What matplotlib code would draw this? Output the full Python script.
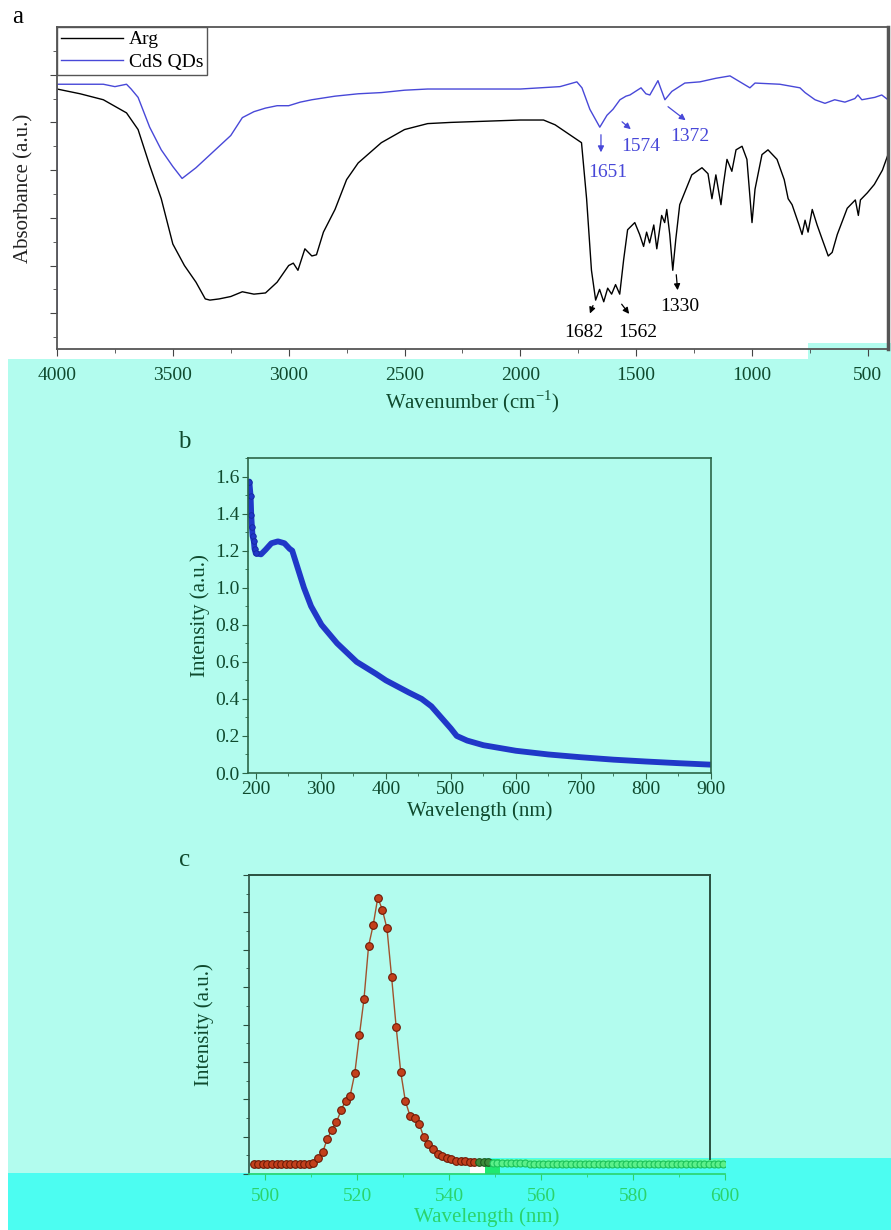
import numpy as np
import matplotlib
matplotlib.use("Agg")
import matplotlib.pyplot as plt
from matplotlib.patches import Rectangle
from matplotlib.ticker import MultipleLocator, FixedLocator

plt.rcParams['font.family'] = ['Liberation Serif', 'DejaVu Serif']
plt.rcParams['mathtext.fontset'] = 'custom'
plt.rcParams['mathtext.rm'] = 'Liberation Serif'

W, H = 891, 1230

# ---- panel a: FTIR (wavenumber, absorbance a.u.) ----
arg_wn = [4000, 3900, 3800, 3700, 3650, 3600, 3550, 3500, 3450, 3400, 3360, 3340,
          3300, 3250, 3200, 3150, 3100, 3050, 3000, 2980, 2960, 2930, 2900, 2880,
          2850, 2800, 2750, 2700, 2600, 2500, 2400, 2300, 2000, 1900, 1850, 1736,
          1714, 1693, 1675, 1658, 1640, 1623, 1606, 1589, 1571, 1554, 1537, 1506,
          1485, 1468, 1455, 1442, 1424, 1411, 1390, 1377, 1368, 1355, 1342, 1329,
          1312, 1260, 1216, 1190, 1173, 1156, 1134, 1125, 1108, 1087, 1069, 1043,
          1022, 1000, 987, 957, 931, 892, 861, 844, 827, 797, 784, 771, 758, 740,
          719, 697, 671, 654, 632, 589, 554, 541, 532, 502, 472, 437, 413]
arg_ab = [10.9, 10.7, 10.45, 9.9, 9.2, 7.7, 6.3, 4.4, 3.5, 2.8, 2.1, 2.05,
          2.1, 2.2, 2.4, 2.3, 2.35, 2.8, 3.5, 3.6, 3.3, 4.2, 3.9, 3.95,
          4.9, 5.85, 7.1, 7.8, 8.65, 9.2, 9.45, 9.5, 9.6, 9.6, 9.4, 8.65,
          6.3, 3.3, 2.05, 2.5, 1.98, 2.55, 2.3, 2.7, 2.3, 3.75, 5.0, 5.3,
          4.8, 4.3, 4.9, 4.45, 5.2, 4.2, 5.6, 5.3, 5.85, 4.8, 3.3, 4.6,
          6.05, 7.3, 7.6, 7.35, 6.3, 7.3, 6.05, 6.8, 7.95, 7.45, 8.35, 8.5,
          7.95, 5.3, 6.7, 8.15, 8.35, 7.95, 7.1, 6.3, 6.05, 5.2, 4.8, 5.4, 4.9, 5.85,
          5.2, 4.6, 3.9, 4.05, 4.8, 5.9, 6.25, 5.6, 6.25, 6.55, 6.9, 7.5, 8.15]

cds_wn = [4000, 4000, 3900, 3800, 3750, 3700, 3680, 3650, 3600, 3550, 3500, 3460,
          3400, 3350, 3300, 3250, 3200, 3150, 3100, 3050, 3000, 2950, 2900, 2800,
          2700, 2600, 2500, 2400, 2300, 2000, 1829, 1756, 1734, 1700, 1657, 1626,
          1600, 1570, 1544, 1527, 1479, 1458, 1441, 1406, 1393, 1376, 1346, 1290,
          1225, 1156, 1095, 1052, 1009, 987, 880, 793, 771, 728, 685, 643, 599,
          556, 543, 526, 470, 440, 413]
cds_ab = [1.5, 11.1, 11.1, 11.1, 11.0, 11.1, 10.9, 10.55, 9.3, 8.35, 7.65, 7.15,
          7.6, 8.05, 8.5, 8.95, 9.7, 9.95, 10.1, 10.2, 10.2, 10.35, 10.45, 10.6,
          10.7, 10.75, 10.85, 10.9, 10.9, 10.9, 11.0, 11.2, 10.95, 10.05, 9.3, 9.8,
          10.05, 10.45, 10.6, 10.65, 10.95, 10.7, 10.65, 11.25, 10.9, 10.45, 10.8, 11.15,
          11.2, 11.35, 11.45, 11.2, 10.95, 11.15, 11.1, 10.95, 10.75, 10.45, 10.3, 10.45, 10.35,
          10.5, 10.65, 10.45, 10.55, 10.65, 10.45]

# peak labels: (text, peak wn, peak y, arrow head wn, head y, text wn, text y)
blue_marks = [("1651", 1652, 9.1, 1652, 8.13, 1622, 7.42),
              ("1574", 1570, 9.6, 1514, 9.14, 1480, 8.51),
              ("1372", 1372, 10.23, 1277, 9.52, 1268, 8.89)]
black_marks = [("1682", 1682, 1.93, 1704, 1.38, 1726, 0.71),
               ("1562", 1570, 1.97, 1523, 1.38, 1492, 0.71),
               ("1330", 1328, 3.23, 1320, 2.35, 1311, 1.8)]

# ---- panel b: UV-vis ----
uv_wl = [190, 192, 193, 194, 195, 197, 198, 200, 208, 215, 224, 234, 244, 252, 256,
         265, 274, 285, 301, 325, 355, 385, 400, 435, 455, 470, 485, 500, 509, 525,
         550, 600, 650, 700, 750, 800, 850, 900]
uv_int = [1.573, 1.495, 1.39, 1.33, 1.28, 1.25, 1.21, 1.185, 1.18, 1.205, 1.24, 1.25,
          1.24, 1.21, 1.20, 1.10, 1.00, 0.90, 0.80, 0.70, 0.60, 0.535, 0.50, 0.435,
          0.40, 0.36, 0.30, 0.24, 0.20, 0.175, 0.15, 0.12, 0.10, 0.085, 0.072,
          0.062, 0.053, 0.045]

# ---- panel c: PL ----
pl_wl = np.arange(497.5, 600, 1.0)
pl_int = [0.27, 0.28, 0.28, 0.28, 0.27, 0.27, 0.28, 0.26, 0.26, 0.26, 0.26, 0.26, 0.27,
          0.30, 0.42, 0.58, 0.93, 1.19, 1.38, 1.70, 1.96, 2.10, 2.69, 3.71, 4.68,
          6.10, 6.66, 7.39, 7.07, 6.57, 5.28, 3.93, 2.72, 1.95, 1.56, 1.50, 1.35,
          0.98, 0.80, 0.67, 0.53, 0.48, 0.44, 0.39, 0.35, 0.34, 0.34, 0.33, 0.32,
          0.32, 0.31, 0.31, 0.30, 0.30, 0.30, 0.29, 0.29, 0.29, 0.29, 0.29, 0.28,
          0.28, 0.28, 0.28, 0.28, 0.28, 0.28, 0.28, 0.28, 0.28, 0.28, 0.28, 0.28,
          0.28, 0.28, 0.28, 0.28, 0.28, 0.28, 0.28, 0.28, 0.28, 0.28, 0.28, 0.28,
          0.28, 0.28, 0.28, 0.28, 0.28, 0.28, 0.28, 0.28, 0.28, 0.28, 0.28, 0.28,
          0.28, 0.28, 0.28, 0.28, 0.28, 0.28]

LIGHT_CYAN = '#b2fcee'
STRIP_CYAN = '#4cfdf1'
DARK_GREEN = '#0f4a2e'
SPINE_GREEN = '#2c6648'
BRIGHT_GREEN = '#2bd36c'
BLUE = '#4848d8'


def px_box(x0, y0, x1, y1):
    """pixel box (top-left origin) -> figure fraction rect"""
    return (x0 / W, 1 - y1 / H), (x1 - x0) / W, (y1 - y0) / H


def bg(fig, x0, y0, x1, y1, color):
    xy, w, h = px_box(x0, y0, x1, y1)
    fig.add_artist(Rectangle(xy, w, h, transform=fig.transFigure,
                             facecolor=color, edgecolor='none', zorder=-10))


def axes_px(fig, x0, y0, x1, y1):
    xy, w, h = px_box(x0, y0, x1, y1)
    ax = fig.add_axes([xy[0], xy[1], w, h])
    ax.set_facecolor('none')
    return ax


fig = plt.figure(figsize=(W / 100, H / 100), dpi=100)
fig.patch.set_facecolor('white')

# backgrounds of the (scanned) figure
bg(fig, 8, 359, W, H, LIGHT_CYAN)
bg(fig, 808, 343, W, 359, LIGHT_CYAN)
bg(fig, 8, 1173, 485, H, STRIP_CYAN)
bg(fig, 485, 1158, W, H, STRIP_CYAN)
bg(fig, 500, 1159, 725, 1167, '#66ffae')
bg(fig, 485, 1159, 500, 1174, '#1fe870')
bg(fig, 470, 1164, 485, 1174, 'white')

# ---------------- panel a ----------------
ax1 = axes_px(fig, 57, 27, 888, 349)
ax1.plot(arg_wn, arg_ab, color='black', lw=1.0, label='Arg')
ax1.plot(cds_wn, cds_ab, color=BLUE, lw=1.0, label='CdS QDs')
ax1.set_xlim(4000, 413)
ax1.set_ylim(0, 13.5)
ax1.xaxis.set_major_locator(FixedLocator([4000, 3500, 3000, 2500, 2000, 1500, 1000, 500]))
ax1.xaxis.set_minor_locator(FixedLocator([3750, 3250, 2750, 2250, 1750, 1250, 750]))
ax1.yaxis.set_major_locator(FixedLocator(np.arange(1.5, 13, 2)))
ax1.yaxis.set_minor_locator(FixedLocator(np.arange(0.5, 13.5, 2)))
ax1.set_yticklabels([])
ax1.tick_params(which='both', direction='out', colors='#444444', labelcolor=DARK_GREEN,
                labelsize=14, pad=8)
ax1.tick_params(which='major', length=5)
ax1.tick_params(which='minor', length=3)
for s in ax1.spines.values():
    s.set_color('#555555')
    s.set_linewidth(1.3)
ax1.spines['right'].set_linewidth(2.5)
ax1.set_xlabel('Wavenumber (cm$^{\\mathregular{-1}}$)', fontsize=15, color=DARK_GREEN, labelpad=3)
ax1.set_ylabel('Absorbance (a.u.)', fontsize=15, color='#222222')
ax1.yaxis.set_label_coords(-0.028, 0.5)
leg = ax1.legend(loc='upper left', borderaxespad=0, fontsize=14, handlelength=3.2,
                 handletextpad=0.3, labelspacing=0.25, borderpad=0.2, fancybox=False,
                 framealpha=1, edgecolor='#555555')
leg.get_frame().set_linewidth(1.0)
for txt, xw, yw, hx, hy, tx, ty in blue_marks:
    ax1.annotate('', xy=(hx, hy), xytext=(xw, yw),
                 arrowprops=dict(arrowstyle='-|>', color=BLUE, lw=0.9, mutation_scale=9))
    ax1.text(tx, ty, txt, color=BLUE, fontsize=14, ha='center', va='center')
for txt, xw, yw, hx, hy, tx, ty in black_marks:
    ax1.annotate('', xy=(hx, hy), xytext=(xw, yw),
                 arrowprops=dict(arrowstyle='-|>', color='black', lw=0.9, mutation_scale=9))
    ax1.text(tx, ty, txt, color='black', fontsize=14, ha='center', va='center')
fig.text(12 / W, 1 - 17 / H, 'a', fontsize=18, color='black', va='center')

# ---------------- panel b ----------------
ax2 = axes_px(fig, 248, 458, 711, 773)
ax2.plot(uv_wl, uv_int, color='#2038c8', lw=4.2, solid_capstyle='round',
         solid_joinstyle='round')
uv_wl_arr = np.asarray(uv_wl)
uv_int_arr = np.asarray(uv_int)
sharp = uv_wl_arr <= 200
ax2.plot(uv_wl_arr[sharp], uv_int_arr[sharp], 'o', ms=4, color='#2038c8',
         mec='#1428a0', mew=0.6)
ax2.set_xlim(188, 900)
ax2.set_ylim(0, 1.7)
ax2.xaxis.set_major_locator(MultipleLocator(100))
ax2.xaxis.set_minor_locator(MultipleLocator(50))
ax2.yaxis.set_major_locator(MultipleLocator(0.2))
ax2.yaxis.set_minor_locator(MultipleLocator(0.1))
ax2.yaxis.set_major_formatter(matplotlib.ticker.FormatStrFormatter('%.1f'))
ax2.tick_params(which='both', direction='out', colors=SPINE_GREEN, labelcolor=DARK_GREEN,
                labelsize=14, pad=2)
ax2.tick_params(which='major', length=4)
ax2.tick_params(which='minor', length=2.5)
for s in ax2.spines.values():
    s.set_color(SPINE_GREEN)
    s.set_linewidth(1.2)
ax2.set_xlabel('Wavelength (nm)', fontsize=15, color=DARK_GREEN, labelpad=2)
ax2.set_ylabel('Intensity (a.u.)', fontsize=15, color=DARK_GREEN, labelpad=4)
fig.text(178 / W, 1 - 442 / H, 'b', fontsize=18, color=DARK_GREEN, va='center')

# ---------------- panel c ----------------
ax3 = axes_px(fig, 249, 875, 725, 1174)
ax3.plot(pl_wl, pl_int, color='#a0522d', lw=1.0, zorder=2)
pl_wl_arr = np.asarray(pl_wl)
pl_int_arr = np.asarray(pl_int)
red = pl_wl_arr < 545.8
mid = (pl_wl_arr >= 545.8) & (pl_wl_arr < 549)
grn = pl_wl_arr >= 549
ax3.plot(pl_wl_arr[red], pl_int_arr[red], 'o', ms=5.5, mfc='#c2401c', mec='#6e1a06',
         mew=0.8, zorder=3)
ax3.plot(pl_wl_arr[mid], pl_int_arr[mid], 'o', ms=5.5, mfc='#3f8a3a', mec='#1e5a1e',
         mew=0.8, zorder=3)
ax3.plot(pl_wl_arr[grn], pl_int_arr[grn], 'o', ms=5.0, mfc='#5cf08a', mec='#1cc25a',
         mew=0.8, zorder=3)
ax3.set_xlim(496.5, 600)
ax3.set_ylim(0, 8)
ax3.xaxis.set_major_locator(MultipleLocator(20))
ax3.xaxis.set_minor_locator(MultipleLocator(10))
ax3.yaxis.set_major_locator(MultipleLocator(1))
ax3.yaxis.set_minor_locator(MultipleLocator(0.5))
ax3.set_yticklabels([])
ax3.tick_params(axis='x', which='both', direction='out', colors=BRIGHT_GREEN,
                labelcolor=BRIGHT_GREEN, labelsize=14, pad=6)
ax3.tick_params(axis='y', which='both', direction='out', colors='#2a5040')
ax3.tick_params(which='major', length=4)
ax3.tick_params(which='minor', length=2.5)
ax3.spines['right'].set_visible(False)
ax3.spines['top'].set_visible(False)
ax3.spines['left'].set_color('#2a5040')
ax3.spines['left'].set_linewidth(1.2)
ax3.spines['bottom'].set_color(BRIGHT_GREEN)
ax3.spines['bottom'].set_linewidth(1.2)
# original frame (top and right edges stop short of the axis end)
ax3.plot([496.5, 596.7], [8, 8], color='#2a5040', lw=1.4, clip_on=False)
ax3.plot([596.7, 596.7], [0.4, 8], color='#2a5040', lw=1.4, clip_on=False)
ax3.set_xlabel('Wavelength (nm)', fontsize=15, color=BRIGHT_GREEN, labelpad=2)
ax3.set_ylabel('Intensity (a.u.)', fontsize=15, color=DARK_GREEN, labelpad=18)
fig.text(179 / W, 1 - 860 / H, 'c', fontsize=18, color=DARK_GREEN, va='center')

fig.savefig('out.png', dpi=100)
